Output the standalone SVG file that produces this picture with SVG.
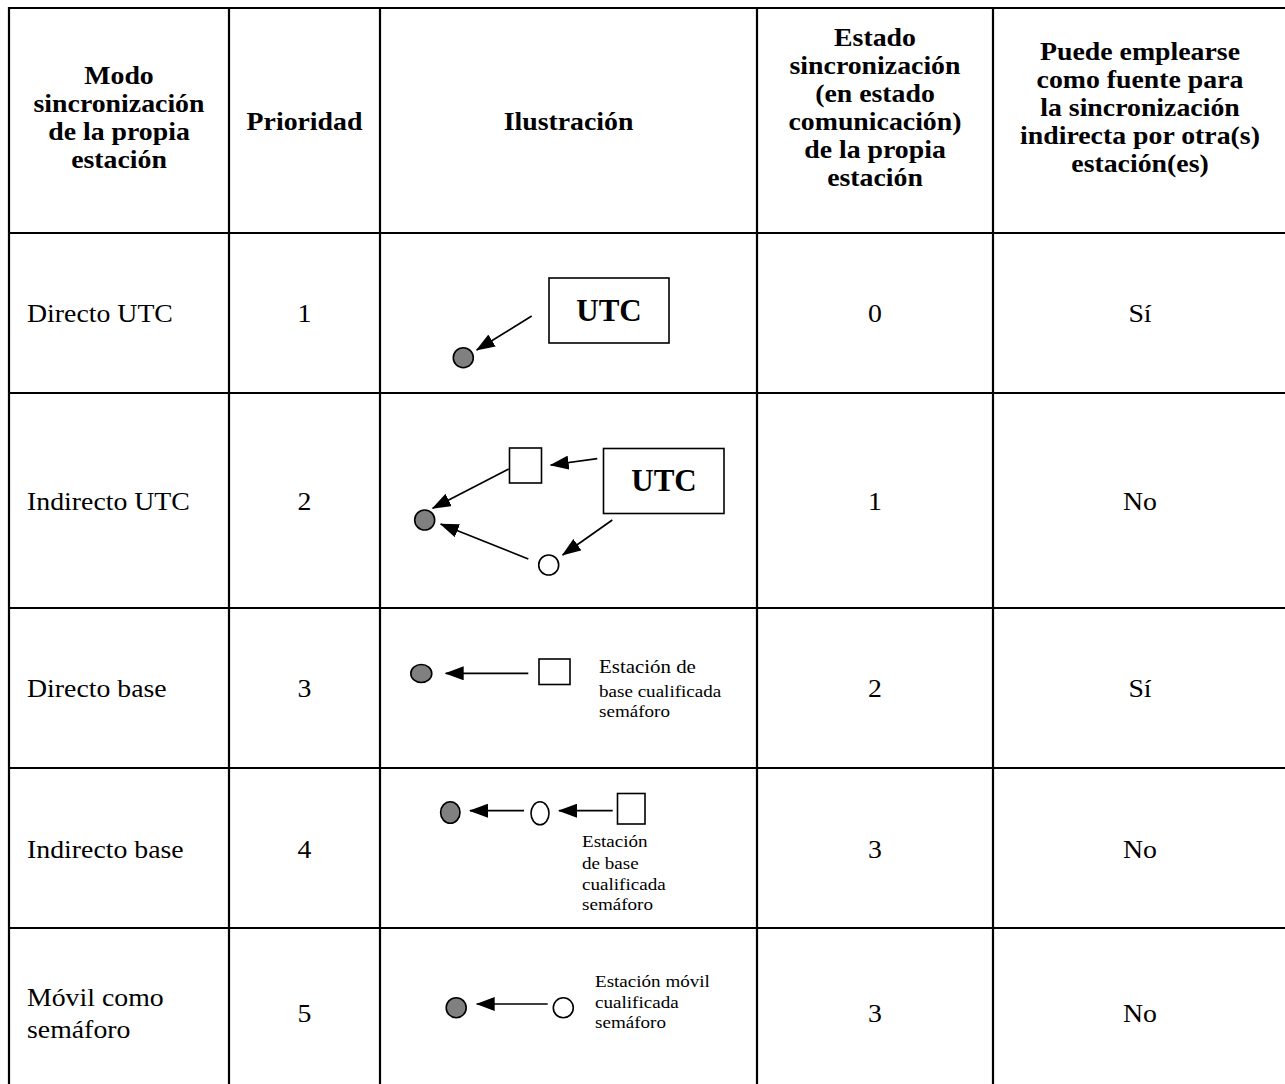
<svg xmlns="http://www.w3.org/2000/svg" width="1285" height="1084" viewBox="0 0 1285 1084">
<style>
  text { font-family: "Liberation Serif", "Times New Roman", serif; fill: #000; }
  .h { font-size: 26px; font-weight: bold; text-anchor: middle; }
  .b { font-size: 26px; }
  .c { font-size: 26px; text-anchor: middle; }
  .s { font-size: 17.5px; }
  .utc { font-size: 31px; font-weight: bold; text-anchor: middle; }
  .grid line { stroke: #000; stroke-width: 2.2; }
  .box { fill: #fff; stroke: #000; stroke-width: 1.6; }
  .own { fill: #808080; stroke: #000; stroke-width: 1.6; }
  .other { fill: #fff; stroke: #000; stroke-width: 1.6; }
  .conn line { stroke: #000; stroke-width: 1.7; marker-end: url(#ah); }
</style>
<defs>
  <marker id="ah" viewBox="0 0 19 14" refX="18" refY="7" markerWidth="19" markerHeight="14" orient="auto" markerUnits="userSpaceOnUse">
    <path d="M0,0 L19,7 L0,14 z" fill="#000"/>
  </marker>
</defs>
<rect width="1285" height="1084" fill="#fff"/>
<g class="grid">
  <line x1="9" y1="8" x2="1285" y2="8"/>
  <line x1="9" y1="233" x2="1285" y2="233"/>
  <line x1="9" y1="393" x2="1285" y2="393"/>
  <line x1="9" y1="608" x2="1285" y2="608"/>
  <line x1="9" y1="768" x2="1285" y2="768"/>
  <line x1="9" y1="928" x2="1285" y2="928"/>
  <line x1="9" y1="7" x2="9" y2="1084"/>
  <line x1="229" y1="7" x2="229" y2="1084"/>
  <line x1="380" y1="7" x2="380" y2="1084"/>
  <line x1="757" y1="7" x2="757" y2="1084"/>
  <line x1="993" y1="7" x2="993" y2="1084"/>
</g>
<g id="header">
  <text class="h" transform="translate(119,84) scale(1.07,1)">Modo</text>
  <text class="h" transform="translate(119,112) scale(1.07,1)">sincronización</text>
  <text class="h" transform="translate(119,140) scale(1.07,1)">de la propia</text>
  <text class="h" transform="translate(119,168) scale(1.07,1)">estación</text>
  <text class="h" transform="translate(304.5,130) scale(1.07,1)">Prioridad</text>
  <text class="h" transform="translate(568.5,130) scale(1.07,1)">Ilustración</text>
  <text class="h" transform="translate(875,46) scale(1.07,1)">Estado</text>
  <text class="h" transform="translate(875,74) scale(1.07,1)">sincronización</text>
  <text class="h" transform="translate(875,102) scale(1.07,1)">(en estado</text>
  <text class="h" transform="translate(875,130) scale(1.07,1)">comunicación)</text>
  <text class="h" transform="translate(875,158) scale(1.07,1)">de la propia</text>
  <text class="h" transform="translate(875,186) scale(1.07,1)">estación</text>
  <text class="h" transform="translate(1140,60) scale(1.07,1)">Puede emplearse</text>
  <text class="h" transform="translate(1140,88) scale(1.07,1)">como fuente para</text>
  <text class="h" transform="translate(1140,116) scale(1.07,1)">la sincronización</text>
  <text class="h" transform="translate(1140,144) scale(1.07,1)">indirecta por otra(s)</text>
  <text class="h" transform="translate(1140,172) scale(1.07,1)">estación(es)</text>
</g>
<g id="row1">
  <text class="b" transform="translate(27,322) scale(1.07,1)">Directo UTC</text>
  <text class="c" transform="translate(304.5,322) scale(1.07,1)">1</text>
  <text class="c" transform="translate(875,322) scale(1.07,1)">0</text>
  <text class="c" transform="translate(1140,322) scale(1.07,1)">Sí</text>
</g>
<g id="row2">
  <text class="b" transform="translate(27,510) scale(1.07,1)">Indirecto UTC</text>
  <text class="c" transform="translate(304.5,510) scale(1.07,1)">2</text>
  <text class="c" transform="translate(875,510) scale(1.07,1)">1</text>
  <text class="c" transform="translate(1140,510) scale(1.07,1)">No</text>
</g>
<g id="row3">
  <text class="b" transform="translate(27,697) scale(1.07,1)">Directo base</text>
  <text class="c" transform="translate(304.5,697) scale(1.07,1)">3</text>
  <text class="c" transform="translate(875,697) scale(1.07,1)">2</text>
  <text class="c" transform="translate(1140,697) scale(1.07,1)">Sí</text>
</g>
<g id="row4">
  <text class="b" transform="translate(27,858) scale(1.07,1)">Indirecto base</text>
  <text class="c" transform="translate(304.5,858) scale(1.07,1)">4</text>
  <text class="c" transform="translate(875,858) scale(1.07,1)">3</text>
  <text class="c" transform="translate(1140,858) scale(1.07,1)">No</text>
</g>
<g id="row5">
  <text class="b" transform="translate(27,1006) scale(1.07,1)">Móvil como</text>
  <text class="b" transform="translate(27,1038) scale(1.07,1)">semáforo</text>
  <text class="c" transform="translate(304.5,1022) scale(1.07,1)">5</text>
  <text class="c" transform="translate(875,1022) scale(1.07,1)">3</text>
  <text class="c" transform="translate(1140,1022) scale(1.07,1)">No</text>
</g>
<!-- Illustration nodes -->
<g id="r1-utc"><rect class="box" x="549" y="278" width="120" height="65"/><text class="utc" x="609" y="321">UTC</text></g>
<g id="r1-own"><circle class="own" cx="463.3" cy="357.7" r="10"/></g>

<g id="r2-utc"><rect class="box" x="603.5" y="448.5" width="120.5" height="65"/><text class="utc" x="664" y="491">UTC</text></g>
<g id="r2-base"><rect class="box" x="509.5" y="448" width="32" height="35"/></g>
<g id="r2-own"><circle class="own" cx="424.7" cy="520" r="10"/></g>
<g id="r2-mobile"><circle class="other" cx="548.7" cy="565" r="10"/></g>

<g id="r3-own"><ellipse class="own" cx="421.3" cy="673.5" rx="10.5" ry="9"/></g>
<g id="r3-base"><rect class="box" x="539" y="659" width="31" height="25.5"/>
  <text class="s" transform="translate(599,673) scale(1.1,1)" style="font-size:19px">Estación de</text>
  <text class="s" transform="translate(599,697) scale(1.09,1)">base cualificada</text>
  <text class="s" transform="translate(599,717) scale(1.09,1)">semáforo</text>
</g>

<g id="r4-own"><ellipse class="own" cx="450.3" cy="812.5" rx="9.7" ry="10.8"/></g>
<g id="r4-mobile"><ellipse class="other" cx="540" cy="813.3" rx="9" ry="11.5"/></g>
<g id="r4-base"><rect class="box" x="617.5" y="793.5" width="27.5" height="30.5"/>
  <text class="s" transform="translate(582,847) scale(1.09,1)">Estación</text>
  <text class="s" transform="translate(582,869) scale(1.09,1)">de base</text>
  <text class="s" transform="translate(582,890) scale(1.09,1)">cualificada</text>
  <text class="s" transform="translate(582,910) scale(1.09,1)">semáforo</text>
</g>

<g id="r5-own"><circle class="own" cx="456.2" cy="1007.7" r="10"/></g>
<g id="r5-mobile"><circle class="other" cx="563.3" cy="1007.8" r="10"/>
  <text class="s" transform="translate(595,987) scale(1.09,1)">Estación móvil</text>
  <text class="s" transform="translate(595,1008) scale(1.09,1)">cualificada</text>
  <text class="s" transform="translate(595,1028) scale(1.09,1)">semáforo</text>
</g>

<g class="conn" id="connectors">
  <line x1="531.7" y1="316" x2="476.7" y2="350"/>
  <line x1="597.3" y1="458.7" x2="550.7" y2="465"/>
  <line x1="508.7" y1="469" x2="432.7" y2="508.3"/>
  <line x1="528.3" y1="559" x2="440.7" y2="524"/>
  <line x1="612.3" y1="520" x2="562.7" y2="555"/>
  <line x1="528.3" y1="673.3" x2="445.7" y2="673.3"/>
  <line x1="524" y1="810.7" x2="470" y2="810.7"/>
  <line x1="612.7" y1="810.7" x2="559" y2="810.7"/>
  <line x1="547.7" y1="1004" x2="476.7" y2="1004"/>
</g>
</svg>
